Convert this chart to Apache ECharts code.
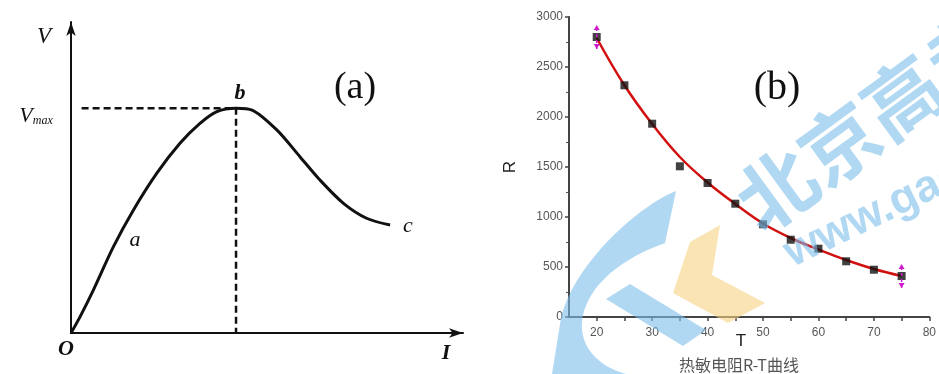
<!DOCTYPE html>
<html>
<head>
<meta charset="utf-8">
<script src="https://cdn.jsdelivr.net/npm/echarts@6/dist/echarts.min.js"></script>
<style>
  html, body { margin: 0; padding: 0; background: #fff; }
  #main { width: 939px; height: 374px; }
</style>
</head>
<body>
<div id="main"></div>
<script>
// panel (a): sketch of V against I
const curveI = [0, 0.23, 0.57, 1.08, 1.59, 2.19, 2.78, 3.29, 3.72, 4.21, 4.62, 5.25, 5.84, 6.35, 6.95, 7.54, 8.14];
const curveV = [0, 0.52, 1.38, 2.77, 3.95, 5.14, 6.10, 6.74, 7.12, 7.23, 7.17, 6.53, 5.67, 4.92, 4.17, 3.69, 3.47];
const peakI = 4.21;
const vMax = 7.23;

// panel (b): thermistor R-T
const temps = [20, 25, 30, 35, 40, 45, 50, 55, 60, 65, 70, 75];
const resist = [2800, 2317, 1933, 1507, 1340, 1133, 927, 773, 683, 557, 473, 410];
const fitR = [2790, 2317, 1930, 1600, 1345, 1130, 935, 790, 675, 570, 480, 410];
const errT = [20, 75];
const errLow = [2680, 290];
const errHigh = [2920, 530];
const tLabels = [20, 30, 40, 50, 60, 70, 80];
const tTicks = [20, 25, 30, 35, 40, 45, 50, 55, 60, 65, 70, 75, 80];

const chart = echarts.init(document.getElementById('main'));

const serif = '"Liberation Serif", "DejaVu Serif", serif';
const sans = 'Arial, "Liberation Sans", sans-serif';

function txt(x, y, text, size, extra) {
  return {
    type: 'text', x: x, y: y,
    style: Object.assign({
      text: text, fontSize: size, fontFamily: serif, fill: '#111',
      align: 'center', verticalAlign: 'middle'
    }, extra || {})
  };
}

// watermark shapes, in pixels
const gArc = 'M676 191 C640 205 575 262 561 318 L552 374 L626 374 C597 366 580 346 582 322 C585 292 612 262 665 243 Z';
const gBar = 'M606 299 L630 284 L706 330 L683 346 Z';
const chevron = 'M720 225 L690 242 L673 293 L728 323 L765 303 L712 275 Z';
const wmBlue = '#7bbeeb';

const option = {
  animation: false,
  backgroundColor: '#fff',
  grid: [
    { left: 71, right: 476, top: 22, bottom: 41 },
    { left: 569, right: 0, top: 17, bottom: 57 }
  ],
  xAxis: [
    {
      gridIndex: 0, type: 'value', min: 0, max: 10,
      axisLine: { lineStyle: { color: '#111', width: 2 }, symbol: ['none', 'arrow'], symbolSize: [7, 14] },
      axisTick: { show: false }, axisLabel: { show: false }, splitLine: { show: false }
    },
    {
      gridIndex: 1, type: 'value', min: 15, max: 80,
      axisLine: { lineStyle: { color: '#444', width: 2 } },
      axisTick: { customValues: tTicks, length: 4, lineStyle: { color: '#444', width: 1.5 } },
      axisLabel: { customValues: tLabels, color: '#555', fontSize: 12, fontFamily: sans, margin: 10 },
      splitLine: { show: false }
    }
  ],
  yAxis: [
    {
      gridIndex: 0, type: 'value', min: 0, max: 10,
      axisLine: { lineStyle: { color: '#111', width: 2 }, symbol: ['none', 'arrow'], symbolSize: [7, 14] },
      axisTick: { show: false }, axisLabel: { show: false }, splitLine: { show: false }
    },
    {
      gridIndex: 1, type: 'value', min: 0, max: 3000, interval: 500,
      name: 'R', nameLocation: 'middle', nameGap: 50, nameRotate: 90,
      nameTextStyle: { fontSize: 17, fontFamily: sans, color: '#222' },
      axisLine: { lineStyle: { color: '#444', width: 2 } },
      axisTick: { length: 4, lineStyle: { color: '#444', width: 1.5 } },
      minorTick: { show: true, splitNumber: 2, length: 3, lineStyle: { color: '#555' } },
      axisLabel: { color: '#555', fontSize: 12, fontFamily: sans, margin: 6, formatter: v => String(v) },
      splitLine: { show: false }
    }
  ],
  series: [
    {
      type: 'line', xAxisIndex: 0, yAxisIndex: 0, smooth: 0.3, symbol: 'none',
      lineStyle: { color: '#111', width: 3 },
      data: curveI.map((v, i) => [v, curveV[i]])
    },
    {
      type: 'line', xAxisIndex: 0, yAxisIndex: 0, symbol: 'none',
      lineStyle: { color: '#111', width: 2.5, type: [7, 4] },
      data: [[0.27, vMax], [peakI, vMax], [peakI, 0]]
    },
    {
      type: 'line', xAxisIndex: 1, yAxisIndex: 1, smooth: 0.4, symbol: 'none',
      lineStyle: { color: '#d21010', width: 2.5 }, z: 3,
      data: temps.map((t, i) => [t, fitR[i]])
    },
    {
      type: 'scatter', xAxisIndex: 1, yAxisIndex: 1, symbol: 'rect', symbolSize: 8,
      itemStyle: { color: '#111' }, z: 4,
      data: temps.map((t, i) => [t, resist[i]])
    },
    {
      type: 'custom', xAxisIndex: 1, yAxisIndex: 1, z: 5,
      data: errT.map((t, i) => [t, errLow[i], errHigh[i]]),
      renderItem: function (params, api) {
        const lo = api.coord([api.value(0), api.value(1)]);
        const hi = api.coord([api.value(0), api.value(2)]);
        return {
          type: 'group',
          children: [
            { type: 'line', shape: { x1: lo[0], y1: lo[1], x2: hi[0], y2: hi[1] },
              style: { stroke: '#d01ad0', lineWidth: 1.5, lineDash: [3, 3] } },
            { type: 'polygon', shape: { points: [[hi[0] - 3, hi[1] + 5], [hi[0] + 3, hi[1] + 5], [hi[0], hi[1]]] },
              style: { fill: '#d01ad0' } },
            { type: 'polygon', shape: { points: [[lo[0] - 3, lo[1] - 5], [lo[0] + 3, lo[1] - 5], [lo[0], lo[1]]] },
              style: { fill: '#d01ad0' } }
          ]
        };
      }
    },
    {
      // watermark
      type: 'custom', coordinateSystem: 'none', z: 100, silent: true,
      data: [0],
      renderItem: function () {
        return {
          type: 'group',
          children: [
            { type: 'path', shape: { pathData: gArc }, style: { fill: wmBlue, opacity: 0.6 } },
            { type: 'path', shape: { pathData: gBar }, style: { fill: wmBlue, opacity: 0.6 } },
            { type: 'path', shape: { pathData: chevron }, style: { fill: '#f7d282', opacity: 0.6 } }
          ]
        };
      }
    }
  ],
  graphic: [
    // panel (a) labels
    txt(44, 37, 'V', 23, { fontStyle: 'italic' }),
    {
      type: 'text', x: 36, y: 116,
      style: {
        text: '{v|V}{s|max}', align: 'center', verticalAlign: 'middle',
        rich: {
          v: { fontSize: 22, fontFamily: serif, fontStyle: 'italic', fill: '#111' },
          s: { fontSize: 12, fontFamily: serif, fontStyle: 'italic', fill: '#111', padding: [10, 0, 0, 0] }
        }
      }
    },
    txt(240, 93, 'b', 22, { fontStyle: 'italic', fontWeight: 'bold' }),
    txt(135, 240, 'a', 22, { fontStyle: 'italic' }),
    txt(408, 226, 'c', 22, { fontStyle: 'italic' }),
    txt(66, 349, 'O', 22, { fontStyle: 'italic', fontWeight: 'bold' }),
    txt(446, 353, 'I', 22, { fontStyle: 'italic', fontWeight: 'bold' }),
    txt(355, 88, '(a)', 38),
    // panel (b) labels
    txt(777, 88, '(b)', 40),
    txt(741, 341, 'T', 17, { fontFamily: sans, fill: '#222' }),
    txt(739, 365, '热敏电阻R-T曲线', 16, { fontFamily: '"Noto Sans CJK SC", sans-serif', fill: '#555' }),
    {
      type: 'text', z: 100, x: 745, y: 212, rotation: 0.63, silent: true,
      style: {
        text: '北京高考', fontSize: 78, fontWeight: 'bold', fill: wmBlue, opacity: 0.6,
        fontFamily: '"Noto Sans CJK SC", sans-serif', align: 'left', verticalAlign: 'middle'
      }
    },
    {
      type: 'text', z: 100, x: 787, y: 256, rotation: 0.45, silent: true,
      style: {
        text: 'www.gaokzx.com', fontSize: 45, fontWeight: 'bold', fill: wmBlue, opacity: 0.6,
        fontFamily: 'Arial, "Liberation Sans", sans-serif', align: 'left', verticalAlign: 'middle'
      }
    }
  ]
};

chart.setOption(option);
</script>
</body>
</html>
